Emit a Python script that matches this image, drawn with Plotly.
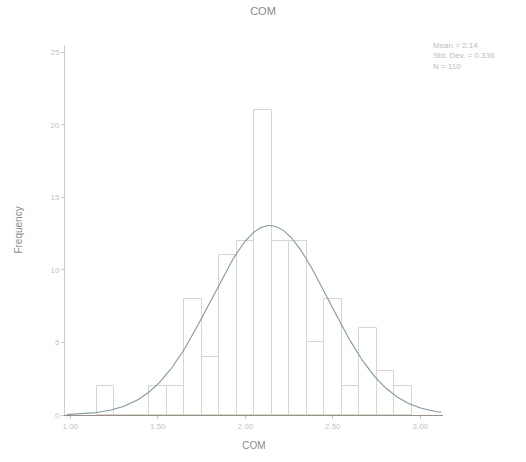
import numpy as np
import plotly.graph_objects as go

# Histogram bins (centers) and counts
bin_centers = [1.2, 1.3, 1.4, 1.5, 1.6, 1.7, 1.8, 1.9, 2.0, 2.1, 2.2, 2.3, 2.4, 2.5, 2.6, 2.7, 2.8, 2.9]
counts = [2, 0, 0, 2, 2, 8, 4, 11, 12, 21, 12, 12, 5, 8, 2, 6, 3, 2]
bin_width = 0.1

# Summary statistics shown in the legend box
mean_val = 2.14
sd_val = 0.336
n_val = 110

x_tick_vals = [1.0, 1.5, 2.0, 2.5, 3.0]
x_tick_text = ["1.00", "1.50", "2.00", "2.50", "3.00"]
y_tick_vals = [0, 5, 10, 15, 20, 25]
y_tick_text = ["0", "5", "10", "15", "20", "25"]

fig = go.Figure()
fig.add_trace(go.Bar(
    x=bin_centers, y=counts, width=bin_width,
    marker=dict(color="rgba(255,255,255,0)", line=dict(color="#d6d6cf", width=1)),
    showlegend=False, hoverinfo="skip",
))

# Fitted normal curve from the legend statistics
xs = np.linspace(0.98, 3.12, 200)
ys = n_val * bin_width / (sd_val * np.sqrt(2 * np.pi)) * np.exp(-0.5 * ((xs - mean_val) / sd_val) ** 2)
fig.add_trace(go.Scatter(x=xs, y=ys, mode="lines",
                         line=dict(color="#7d9a9e", width=1.1),
                         showlegend=False, hoverinfo="skip"))

fig.add_annotation(
    x=1.0, y=1.0, xref="paper", yref="paper", xanchor="left", yanchor="top",
    xshift=-12, yshift=6, align="left", showarrow=False,
    text=f"Mean = {mean_val}<br>Std. Dev. = {sd_val}<br>N = {n_val}",
    font=dict(size=8, color="#bdbdbd", family="Liberation Sans"),
)

fig.update_layout(
    width=526, height=462,
    margin=dict(l=65, r=83, t=45, b=47),
    paper_bgcolor="white", plot_bgcolor="white",
    title=dict(text="COM", x=0.5, xanchor="center", y=0.985, yanchor="top",
               font=dict(size=11, color="#8a8a8a", family="Liberation Sans")),
    font=dict(family="Liberation Sans", color="#c4c4c4", size=8),
    bargap=0,
)
fig.update_xaxes(
    range=[0.97, 3.13], tickvals=x_tick_vals, ticktext=x_tick_text,
    showgrid=False, zeroline=False, showline=True, linecolor="#9a8f86", linewidth=1,
    ticks="outside", ticklen=3, tickcolor="#c8c8c8",
    title=dict(text="COM", font=dict(size=10, color="#8a8a8a"), standoff=12),
)
fig.update_yaxes(
    range=[0, 25.5], tickvals=y_tick_vals, ticktext=y_tick_text,
    showgrid=False, zeroline=False, showline=True, linecolor="#cccccc", linewidth=1,
    ticks="outside", ticklen=3, tickcolor="#c8c8c8",
    title=dict(text="Frequency", font=dict(size=10, color="#8a8a8a"), standoff=25),
)

fig.write_html("out.html")
